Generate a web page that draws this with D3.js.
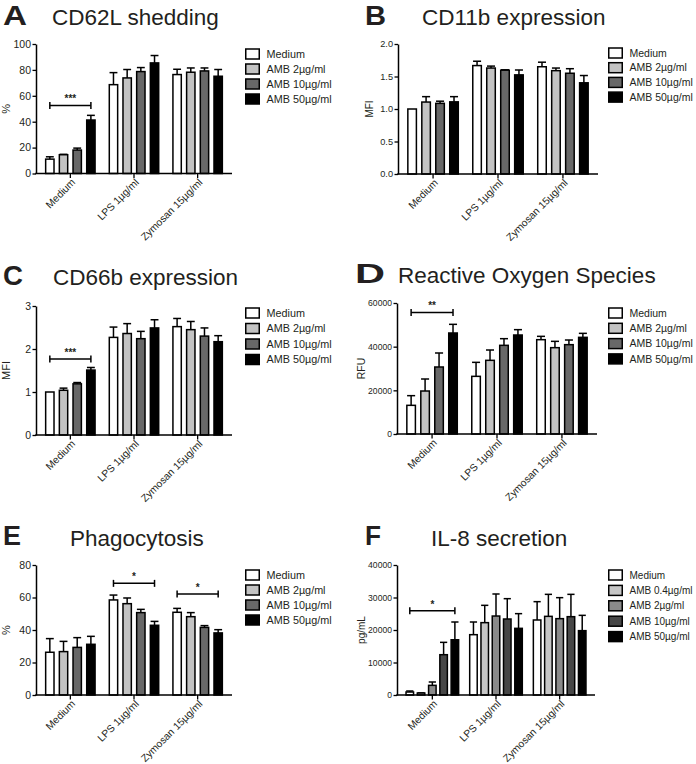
<!DOCTYPE html>
<html><head><meta charset="utf-8">
<script src="https://cdn.jsdelivr.net/npm/d3@7"></script>
<style>
body{margin:0;background:#fff}
svg{display:block}
text{font-family:"Liberation Sans",Arial,Helvetica,sans-serif;fill:#231f20}
</style>
</head><body><svg id="chart" width="696" height="764"></svg>
<script>
// ---------- DATA ----------
const categories = ["Medium", "LPS 1µg/ml", "Zymosan 15µg/ml"];
const seriesFour = ["Medium", "AMB 2µg/ml", "AMB 10µg/ml", "AMB 50µg/ml"];
const seriesFive = ["Medium", "AMB 0.4µg/ml", "AMB 2µg/ml", "AMB 10µg/ml", "AMB 50µg/ml"];
const colorsFour = ["#ffffff", "#c3c3c3", "#686868", "#000000"];
const colorsFive = ["#ffffff", "#c6c6c6", "#8a8a8a", "#474747", "#000000"];

// A: CD62L shedding (%)
const cd62lMean = [[11.1, 14.5, 18.1, 41.3], [68.6, 73.8, 78.7, 85.4], [76.4, 78.2, 79.2, 75.1]];
const cd62lSem  = [[1.8, 0.3, 1.5, 3.6], [9.3, 6.5, 3.1, 5.7], [4.1, 3.3, 2.3, 5.2]];
const cd62lTicks = [0, 20, 40, 60, 80, 100];

// B: CD11b expression (MFI)
const cd11bMean = [[1.0, 1.107, 1.087, 1.11], [1.668, 1.63, 1.597, 1.525], [1.65, 1.59, 1.55, 1.403]];
const cd11bSem  = [[0, 0.083, 0.033, 0.08], [0.067, 0.03, 0.006, 0.075], [0.07, 0.04, 0.07, 0.112]];
const cd11bTicks = [0, 0.5, 1.0, 1.5, 2.0];

// C: CD66b expression (MFI)
const cd66bMean = [[1.0, 1.04, 1.19, 1.51], [2.27, 2.36, 2.24, 2.49], [2.52, 2.45, 2.30, 2.17]];
const cd66bSem  = [[0, 0.05, 0.03, 0.06], [0.24, 0.23, 0.17, 0.19], [0.19, 0.19, 0.19, 0.14]];
const cd66bTicks = [0, 1, 2, 3];

// D: Reactive Oxygen Species (RFU)
const rosMean = [[13130, 19690, 30690, 46260], [26410, 33740, 40610, 45340], [43200, 39540, 40920, 44270]];
const rosSem  = [[4430, 5500, 6410, 3970], [6410, 4730, 3050, 2450], [1530, 2900, 2130, 1830]];
const rosTicks = [0, 20000, 40000, 60000];

// E: Phagocytosis (%)
const phagoMean = [[26.3, 26.7, 29.3, 31.2], [58.5, 56.2, 50.7, 42.9], [50.9, 48.2, 41.6, 38.2]];
const phagoSem  = [[8.4, 6.3, 6.0, 4.9], [3.0, 3.5, 2.0, 2.4], [2.4, 2.5, 1.1, 2.0]];
const phagoTicks = [0, 20, 40, 60, 80];

// F: IL-8 secretion (pg/mL)
const il8Mean = [[920, 600, 2970, 12400, 17000], [18560, 22260, 24300, 23380, 20510], [23080, 24200, 23490, 24100, 19800]];
const il8Sem  = [[310, 50, 1030, 3800, 5460], [3900, 5330, 6780, 6260, 4520], [5640, 6770, 6460, 6870, 4710]];
const il8Ticks = [0, 10000, 20000, 30000, 40000];

// significance brackets: [category index, level, label]
const cd62lSig = [[0, 52.6, "***"]];
const cd66bSig = [[0, 1.77, "***"]];
const rosSig   = [[0, 55700, "**"]];
const phagoSig = [[1, 68.7, "*"], [2, 62.2, "*"]];
const il8Sig   = [[0, 25950, "*"]];

// ---------- LAYOUT ----------
const panels = [
  {letter:"A", lx:3, lw:24, ly:25, title:"CD62L shedding", tx:52, ty:25,
   mean:cd62lMean, sem:cd62lSem, ticks:cd62lTicks, fmt:d3.format("d"), series:seriesFour, colors:colorsFour, sig:cd62lSig,
   ylabel:"%", ylx:6, x0:36, x1:232, yTop:44, yBot:173.5, legX:245, legY:54, legStep:15,
   tickFs:10.5, ylFs:11, legFs:10.8},
  {letter:"B", lx:365, lw:21, ly:25, title:"CD11b expression", tx:422, ty:25,
   mean:cd11bMean, sem:cd11bSem, ticks:cd11bTicks, fmt:d3.format(".1f"), series:seriesFour, colors:colorsFour, sig:[],
   ylabel:"MFI", ylx:369, x0:398, x1:598, yTop:44, yBot:174, legX:608, legY:53, legStep:14.7,
   tickFs:9.2, ylFs:10, legFs:10.5},
  {letter:"C", lx:3, lw:20, ly:285, title:"CD66b expression", tx:53, ty:285,
   mean:cd66bMean, sem:cd66bSem, ticks:cd66bTicks, fmt:d3.format("d"), series:seriesFour, colors:colorsFour, sig:cd66bSig,
   ylabel:"MFI", ylx:6, x0:36, x1:232, yTop:306, yBot:435, legX:245, legY:313, legStep:15.5,
   tickFs:10.5, ylFs:11, legFs:10.8},
  {letter:"D", lx:355, lw:30, ly:283, title:"Reactive Oxygen Species", tx:398, ty:283,
   mean:rosMean, sem:rosSem, ticks:rosTicks, fmt:d3.format("d"), series:seriesFour, colors:colorsFour, sig:rosSig,
   ylabel:"RFU", ylx:361, x0:397, x1:597, yTop:303, yBot:434, legX:608, legY:313, legStep:15.3,
   tickFs:8.6, ylFs:10.5, legFs:10.5},
  {letter:"E", lx:3, lw:18, ly:545, title:"Phagocytosis", tx:70, ty:546,
   mean:phagoMean, sem:phagoSem, ticks:phagoTicks, fmt:d3.format("d"), series:seriesFour, colors:colorsFour, sig:phagoSig,
   ylabel:"%", ylx:6, x0:36, x1:232, yTop:565, yBot:695, legX:245, legY:575, legStep:15,
   tickFs:10.5, ylFs:11, legFs:10.8},
  {letter:"F", lx:365, lw:16, ly:545, title:"IL-8 secretion", tx:431, ty:546,
   mean:il8Mean, sem:il8Sem, ticks:il8Ticks, fmt:d3.format("d"), series:seriesFive, colors:colorsFive, sig:il8Sig,
   ylabel:"pg/mL", ylx:361, x0:397, x1:595, yTop:565, yBot:695, legX:608, legY:575, legStep:15.4,
   tickFs:8.6, ylFs:10, legFs:10}
];

const svg = d3.select("#chart");

panels.forEach(p => {
  const g = svg.append("g");
  const nS = p.series.length;
  const y = d3.scaleLinear().domain([0, d3.max(p.ticks)]).range([p.yBot, p.yTop]);
  const xg = d3.scaleBand().domain(categories).range([p.x0, p.x1])
      .paddingInner(nS === 5 ? 0.15 : 0.2).paddingOuter(nS === 5 ? 0.13 : 0.14);
  const xs = d3.scaleBand().domain(p.series).range([0, xg.bandwidth()]).paddingInner(nS === 5 ? 0.2 : 0.28);
  const color = d3.scaleOrdinal().domain(p.series).range(p.colors);

  const rows = [];
  categories.forEach((c, ci) => p.series.forEach((s, si) => {
    rows.push({c, s, ci, si, v: p.mean[ci][si], e: p.sem[ci][si]});
  }));

  // letter + title
  g.append("text").attr("x", p.lx).attr("y", p.ly).text(p.letter)
    .attr("font-size", 28).attr("font-weight", 900)
    .attr("textLength", p.lw).attr("lengthAdjust", "spacingAndGlyphs");
  g.append("text").attr("x", p.tx).attr("y", p.ty).text(p.title).attr("font-size", 22.5);

  // error bars
  const bw = xs.bandwidth();
  const capW = bw * 0.8;
  const eb = g.append("g").attr("stroke", "#000").attr("stroke-width", 1.5);
  rows.filter(d => d.e > 0).forEach(d => {
    const cx = xg(d.c) + xs(d.s) + bw / 2;
    eb.append("line").attr("x1", cx).attr("x2", cx).attr("y1", y(d.v)).attr("y2", y(d.v + d.e));
    eb.append("line").attr("x1", cx - capW / 2).attr("x2", cx + capW / 2).attr("y1", y(d.v + d.e)).attr("y2", y(d.v + d.e));
  });

  // bars
  g.append("g").selectAll("rect").data(rows).join("rect")
    .attr("x", d => xg(d.c) + xs(d.s) + 0.75)
    .attr("width", bw - 1.5)
    .attr("y", d => y(d.v))
    .attr("height", d => y(0) - y(d.v))
    .attr("fill", d => color(d.s))
    .attr("stroke", "#000").attr("stroke-width", 1.5);

  // y axis
  const ya = g.append("g").attr("transform", `translate(${p.x0},0)`)
    .call(d3.axisLeft(y).tickValues(p.ticks).tickFormat(p.fmt).tickSize(3.5).tickSizeOuter(0).tickPadding(1.5));
  ya.select(".domain").attr("stroke-width", 1.5).attr("stroke", "#000");
  ya.selectAll(".tick line").attr("stroke-width", 1.3).attr("stroke", "#000");
  ya.selectAll(".tick text").attr("font-size", p.tickFs).attr("fill", null);

  // x axis
  const xa = g.append("g").attr("transform", `translate(0,${p.yBot})`)
    .call(d3.axisBottom(xg).tickSize(4.5).tickSizeOuter(0).tickFormat(""));
  xa.select(".domain").attr("stroke-width", 1.5).attr("stroke", "#000").attr("d", `M${p.x0 - 0.75},0H${p.x1}`);
  xa.selectAll(".tick line").attr("stroke-width", 1.3).attr("stroke", "#000");
  g.append("g").selectAll("text").data(categories).join("text")
    .attr("transform", d => `translate(${xg(d) + xg.bandwidth() / 2 + 3},${p.yBot + 7}) rotate(-45)`)
    .attr("text-anchor", "end").attr("dy", "0.35em").attr("font-size", 10.3)
    .text(d => d);

  // y label
  g.append("text").attr("transform", `translate(${p.ylx},${(p.yTop + p.yBot) / 2}) rotate(-90)`)
    .attr("text-anchor", "middle").attr("dy", "0.35em").attr("font-size", p.ylFs).text(p.ylabel);

  // significance brackets
  p.sig.forEach(([ci, lvl, lab]) => {
    const c = categories[ci];
    const xa1 = xg(c) + xs(p.series[0]) + bw / 2;
    const xa2 = xg(c) + xs(p.series[nS - 1]) + bw / 2;
    const yy = y(lvl);
    const sg = g.append("g").attr("stroke", "#000").attr("stroke-width", 1.5);
    sg.append("line").attr("x1", xa1).attr("x2", xa2).attr("y1", yy).attr("y2", yy);
    sg.append("line").attr("x1", xa1).attr("x2", xa1).attr("y1", yy - 3.5).attr("y2", yy + 3.5);
    sg.append("line").attr("x1", xa2).attr("x2", xa2).attr("y1", yy - 3.5).attr("y2", yy + 3.5);
    g.append("text").attr("x", (xa1 + xa2) / 2).attr("y", yy - 3).attr("text-anchor", "middle")
      .attr("font-size", 10).attr("font-weight", "bold").text(lab);
  });

  // legend
  const lg = g.append("g").attr("transform", `translate(${p.legX},${p.legY})`);
  p.series.forEach((s, i) => {
    const row = lg.append("g").attr("transform", `translate(0,${i * p.legStep})`);
    row.append("rect").attr("x", 0.75).attr("y", -5).attr("width", 13.5).attr("height", 10)
      .attr("fill", color(s)).attr("stroke", "#000").attr("stroke-width", 1.5);
    row.append("text").attr("x", 21.5).attr("dy", "0.35em").attr("font-size", p.legFs).text(s);
  });
});
</script>
</body></html>
